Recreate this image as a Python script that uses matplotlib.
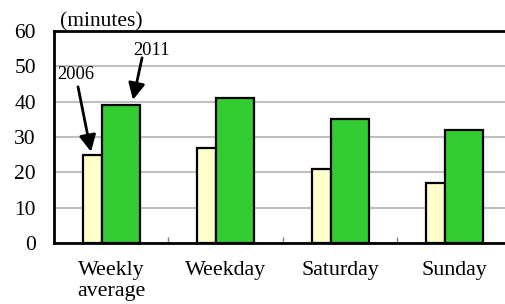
import numpy as np
import matplotlib
matplotlib.use('Agg')
import matplotlib.pyplot as plt

# ---------------------------------------------------------------------------
# Data
# ---------------------------------------------------------------------------
categories = ['Weekly\naverage', 'Weekday', 'Saturday', 'Sunday']
minutes_2006 = [25, 27, 21, 17]
minutes_2011 = [39, 41, 35, 32]
y_ticks = [0, 10, 20, 30, 40, 50, 60]

plt.rcParams['font.family'] = ['Liberation Serif', 'DejaVu Serif']

fig = plt.figure(figsize=(5.06, 3.04), dpi=100)
ax = fig.add_axes([54 / 506, 61 / 304, 458 / 506, 212 / 304])

x = np.arange(len(categories))
w06, w11 = 0.166, 0.332
ax.bar(x - 0.249 + w06 / 2, minutes_2006, width=w06, color='#FFFFCC',
       edgecolor='black', linewidth=1.6, zorder=3)
ax.bar(x - 0.083 + w11 / 2, minutes_2011, width=w11, color='#33CC33',
       edgecolor='black', linewidth=1.6, zorder=3)

ax.set_xlim(-0.5, len(categories) - 0.5)
ax.set_ylim(0, 60)
ax.set_yticks(y_ticks)
ax.tick_params(axis='y', length=0, pad=13, labelsize=15.5)
ax.set_xticks(x)
ax.set_xticklabels(categories, fontsize=15.8, linespacing=1.15)
ax.tick_params(axis='x', length=0, pad=13)
ax.set_xticks(x[:-1] + 0.5, minor=True)
ax.tick_params(axis='x', which='minor', direction='in', length=4, width=1,
               color='#808080')
ax.yaxis.grid(True, color='#C0C0C0', linewidth=1.5, zorder=0)
ax.set_axisbelow(True)
for side in ['left', 'bottom', 'top', 'right']:
    ax.spines[side].set_linewidth(2)

ax.text(6 / 458, 1.0, '(minutes)', transform=ax.transAxes, fontsize=15.5,
        ha='left', va='bottom')

# year annotations
arrow = dict(arrowstyle='-|>,head_length=1.0,head_width=0.5', color='black',
             lw=2, shrinkA=0, shrinkB=0)
ax.text(-0.308, 47.6, '2006', fontsize=13.3, ha='center', va='center')
ax.annotate('', xy=(-0.177, 25.8), xytext=(-0.29, 44.2), arrowprops=arrow)
ax.text(0.356, 54.6, '2011', fontsize=13.3, ha='center', va='center')
ax.annotate('', xy=(0.19, 40.5), xytext=(0.269, 52.4), arrowprops=arrow)

fig.savefig('out.png', dpi=100)
